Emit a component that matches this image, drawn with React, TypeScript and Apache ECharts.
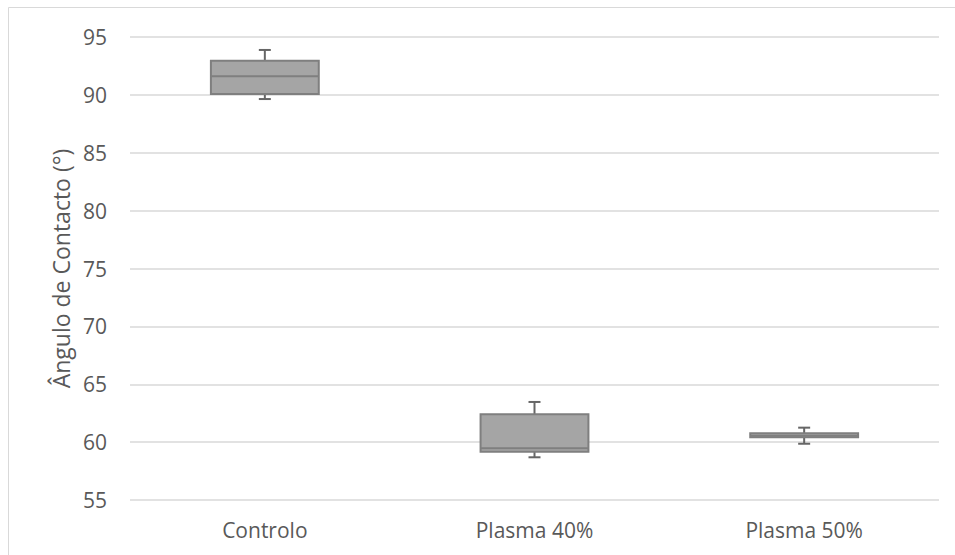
import React, { useEffect, useRef } from "react";
import * as echarts from "echarts";

const categories = ["Controlo", "Plasma 40%", "Plasma 50%"];
const mins = [89.64, 58.69, 59.86];
const q1s = [90.08, 59.17, 60.42];
const medians = [91.6, 59.47, 60.55];
const q3s = [92.95, 62.4, 60.76];
const maxs = [93.88, 63.47, 61.25];
const yTicks = { min: 55, max: 95, interval: 5 };

export default function App() {
  const ref = useRef<HTMLDivElement>(null);
  useEffect(() => {
    if (!ref.current) return;
    const chart = echarts.init(ref.current, null, { renderer: "svg" });
    const data = categories.map((c, i) => [i, mins[i], q1s[i], medians[i], q3s[i], maxs[i]]);
    const font = "'Open Sans', sans-serif";
    chart.setOption({
      animation: false,
      backgroundColor: "#ffffff",
      graphic: [
        {
          type: "rect",
          shape: { x: 8.5, y: 7.5, width: 1200, height: 800 },
          style: { fill: "none", stroke: "#d9d9d9", lineWidth: 1 },
          silent: true,
        },
      ],
      grid: { left: 130, right: 16, top: 37, bottom: 55, containLabel: false },
      xAxis: {
        type: "category",
        data: categories,
        axisLine: { show: false },
        axisTick: { show: false },
        axisLabel: { color: "#595959", fontFamily: font, fontSize: 21, margin: 19 },
        splitLine: { show: false },
      },
      yAxis: {
        type: "value",
        min: yTicks.min,
        max: yTicks.max,
        interval: yTicks.interval,
        name: "Ângulo de Contacto (°)",
        nameLocation: "middle",
        nameGap: 53,
        nameTextStyle: { color: "#595959", fontFamily: font, fontSize: 23 },
        axisLine: { show: false },
        axisTick: { show: false },
        axisLabel: { color: "#595959", fontFamily: font, fontSize: 21, margin: 23 },
        splitLine: { lineStyle: { color: "#d9d9d9", width: 1.5 } },
      },
      series: [
        {
          type: "custom",
          data,
          renderItem: (params: any, api: any) => {
            const x = api.value(0);
            const pMin = api.coord([x, api.value(1)]);
            const pQ1 = api.coord([x, api.value(2)]);
            const pMed = api.coord([x, api.value(3)]);
            const pQ3 = api.coord([x, api.value(4)]);
            const pMax = api.coord([x, api.value(5)]);
            const bw = api.size([1, 0])[0] * 0.4;
            const cx = pMed[0];
            const cap = 6;
            const whisk = { stroke: "#666666", lineWidth: 2 };
            return {
              type: "group",
              children: [
                { type: "line", shape: { x1: cx, y1: pQ3[1], x2: cx, y2: pMax[1] }, style: whisk },
                { type: "line", shape: { x1: cx - cap, y1: pMax[1], x2: cx + cap, y2: pMax[1] }, style: whisk },
                { type: "line", shape: { x1: cx, y1: pQ1[1], x2: cx, y2: pMin[1] }, style: whisk },
                { type: "line", shape: { x1: cx - cap, y1: pMin[1], x2: cx + cap, y2: pMin[1] }, style: whisk },
                {
                  type: "rect",
                  shape: { x: cx - bw / 2, y: pQ3[1], width: bw, height: pQ1[1] - pQ3[1] },
                  style: { fill: "#a5a5a5", stroke: "#7f7f7f", lineWidth: 2 },
                },
                {
                  type: "line",
                  shape: { x1: cx - bw / 2, y1: pMed[1], x2: cx + bw / 2, y2: pMed[1] },
                  style: { stroke: "#7f7f7f", lineWidth: 2 },
                },
              ],
            };
          },
        },
      ],
    });
    return () => chart.dispose();
  }, []);
  return (
    <div
      ref={ref}
      style={{ position: "fixed", left: 0, top: 0, width: 955, height: 555, background: "#fff" }}
    />
  );
}
